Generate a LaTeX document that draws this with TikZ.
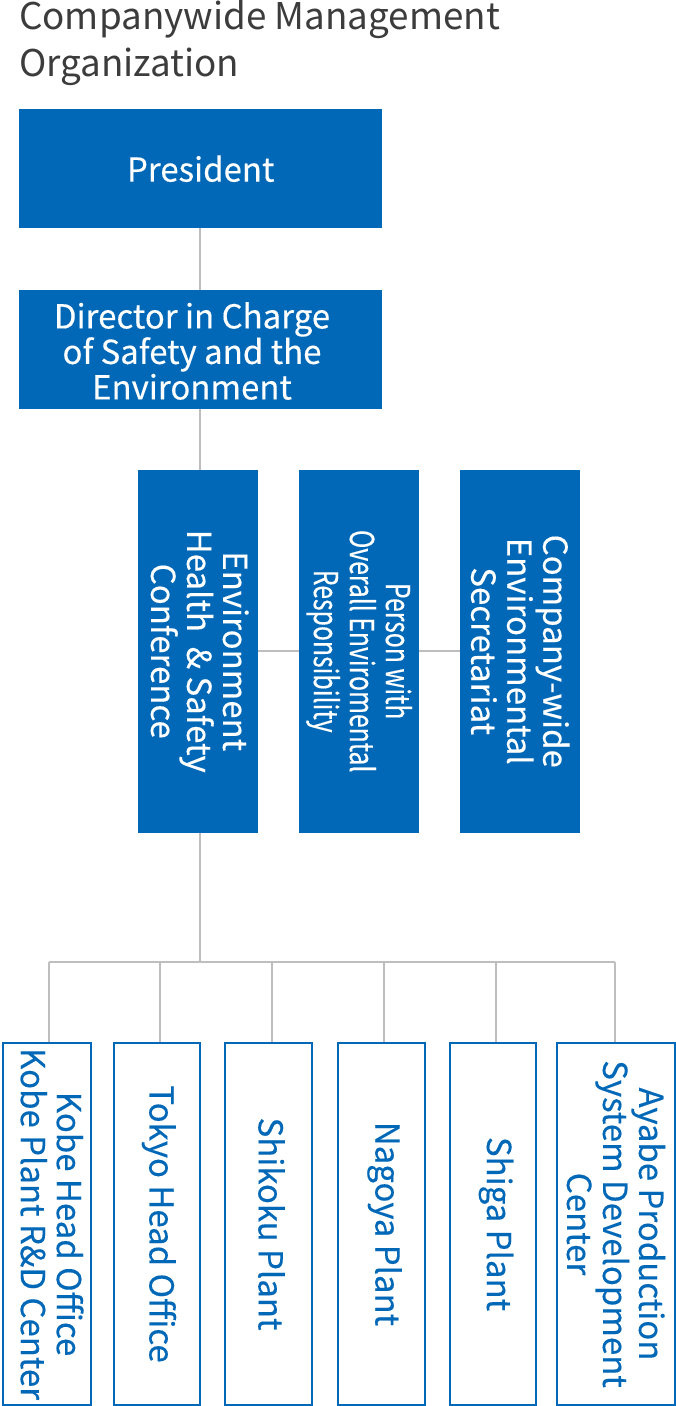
\documentclass[tikz,border=0pt]{standalone}
\usepackage{fontspec}
\setmainfont{Noto Sans CJK JP}
\newfontfamily\boxfont{Noto Sans CJK JP}[FakeBold=0.3]
\newfontfamily\condfont{Noto Sans CJK JP}[FakeStretch=0.75,FakeBold=0.3]
\definecolor{kblue}{RGB}{0,104,183}
\definecolor{ktitle}{RGB}{60,60,60}
\definecolor{kline}{RGB}{190,190,190}
\tikzset{
  x=1pt, y=-1pt,
  solidbox/.style={draw=none, fill=kblue, text=white, inner sep=0pt, align=center,
    font=\boxfont\fontsize{33}{35.5}\selectfont},
  vbox/.style={solidbox, anchor=north west},
  outbox/.style={draw=kblue, line width=2pt, fill=white, text=kblue, inner sep=0pt,
    anchor=north west},
  vtext/.style={rotate=-90, align=center, inner sep=0pt, font=\boxfont\fontsize{33}{36}\selectfont},
  conn/.style={draw=kline, line width=2pt},
}
\begin{document}
\begin{tikzpicture}
\useasboundingbox (0,0) rectangle (676,1406);
% title
\node[anchor=north west, inner sep=0pt, align=left, text=ktitle,
  font=\fontsize{36.8}{47}\selectfont] (title) at (19,0.5) {Companywide Management\\Organization};
% top boxes
\node[solidbox, minimum width=363pt, minimum height=119pt, anchor=north west] (pres) at (19,109) {President};
\node[solidbox, minimum width=363pt, minimum height=119pt, anchor=north west] (dir) at (19,290) {};
\node[align=center, text=white, inner sep=0pt, font=\boxfont\fontsize{33}{35.5}\selectfont] (dirtext) at (192,351) {Director in Charge\\of Safety and the\\Environment};
% middle boxes
\node[vbox, minimum width=120pt, minimum height=363pt] (ehs) at (137.5,469.5) {};
\node[vbox, minimum width=120pt, minimum height=363pt] (person) at (299,469.5) {};
\node[vbox, minimum width=120pt, minimum height=363pt] (secr) at (460,469.5) {};
\node[vtext, text=white] (ehstext) at ([xshift=2pt]ehs.center) {Environment\\Health \ \& Safety\\Conference};
\node[vtext, text=white, font=\condfont\fontsize{33}{36}\selectfont] (persontext) at (person.center) {Person with\\Overall Enviromental\\Responsibility};
\node[vtext, text=white] (secrtext) at (secr.center) {Company-wide\\Environmental\\Secretariat};
% bottom boxes
\node[outbox, minimum width=88pt, minimum height=362pt] (kobe) at (2,1042) {};
\node[outbox, minimum width=86pt, minimum height=362pt] (tokyo) at (113,1042) {};
\node[outbox, minimum width=87pt, minimum height=362pt] (shikoku) at (224,1042) {};
\node[outbox, minimum width=87pt, minimum height=362pt] (nagoya) at (337,1042) {};
\node[outbox, minimum width=86pt, minimum height=362pt] (shiga) at (449,1042) {};
\node[outbox, minimum width=118pt, minimum height=362pt] (ayabe) at (556,1042) {};
\node[vtext, text=kblue] (kobetext) at ([xshift=5pt]kobe.center) {Kobe Head Office\\Kobe Plant R\&D Center};
\node[vtext, text=kblue] (tokyotext) at ([xshift=2pt]tokyo.center) {Tokyo Head Office};
\node[vtext, text=kblue] (shikokutext) at ([xshift=3pt]shikoku.center) {Shikoku Plant};
\node[vtext, text=kblue] (nagoyatext) at ([xshift=3pt]nagoya.center) {Nagoya Plant};
\node[vtext, text=kblue] (shigatext) at ([xshift=3pt]shiga.center) {Shiga Plant};
\node[vtext, text=kblue] (ayabetext) at (ayabe.center) {Ayabe Production\\System Development\\Center};
% connectors
\coordinate (spine) at (200,0);
\coordinate (bus) at (200,962);
\coordinate (bl) at (49,962);
\coordinate (br) at (615,962);
\coordinate (d2) at (160,962);
\coordinate (d3) at (272,962);
\coordinate (d4) at (384,962);
\coordinate (d5) at (496,962);
\draw[conn] (pres.south -| spine) -- (dir.north -| spine);
\draw[conn] (dir.south -| spine) -- (ehs.north -| spine);
\draw[conn] (ehs.east) -- (person.west);
\draw[conn] (person.east) -- (secr.west);
\draw[conn] (ehs.south -| spine) -- (bus);
\draw[conn] (bl) -- (br);
\draw[conn] (bl) -- (bl |- kobe.north);
\draw[conn] (d2) -- (d2 |- tokyo.north);
\draw[conn] (d3) -- (d3 |- shikoku.north);
\draw[conn] (d4) -- (d4 |- nagoya.north);
\draw[conn] (d5) -- (d5 |- shiga.north);
\draw[conn] (br) -- (br |- ayabe.north);
\end{tikzpicture}
\end{document}
